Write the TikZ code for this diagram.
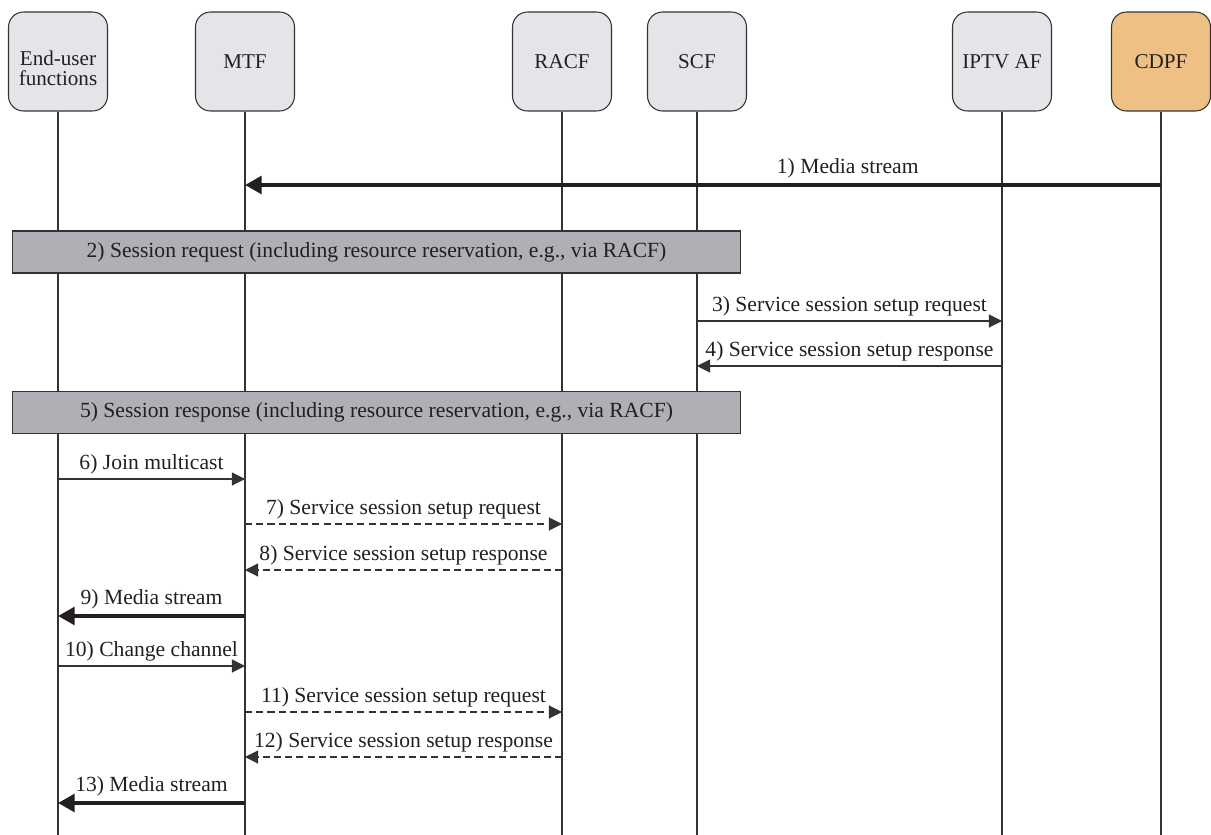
\documentclass[tikz,border=0pt]{standalone}
\usepackage{fontspec}
\setmainfont{Liberation Serif}
\usetikzlibrary{positioning}
\usetikzlibrary{arrows.meta}

\definecolor{boxgray}{HTML}{E4E5E9}
\definecolor{bargray}{HTML}{AEB0B5}
\definecolor{cdpforange}{HTML}{EFC083}
\definecolor{linegray}{HTML}{333333}
\definecolor{inkblack}{HTML}{231F20}

\begin{document}
\begin{tikzpicture}[x=0.02cm, y=-0.02cm,
        every node/.style={text=inkblack, font=\fontsize{12.3}{14}\selectfont},
        entity/.style={draw=linegray, line width=0.6pt, fill=boxgray, rounded corners=0.3cm,
            minimum width=1.98cm, minimum height=1.98cm, align=center, inner sep=1pt,
            font=\fontsize{12}{11}\selectfont},
        lifeline/.style={draw=linegray, line width=0.6pt},
        phase/.style={draw=linegray, line width=0.6pt, fill=bargray,
            minimum width=14.58cm, minimum height=0.84cm, inner sep=0pt},
        msg/.style={draw=linegray, line width=0.6pt, -{Triangle[length=7.5pt,width=7.5pt]}},
        reply/.style={msg, dash pattern=on 4pt off 2.4pt},
        stream/.style={draw=inkblack, line width=2.3pt, -{Triangle[length=9.5pt,width=10pt]}},
        lbl/.style={midway, above, inner sep=3pt, text depth=0.22em}]
        \useasboundingbox (0,0) rectangle (1211,835);

        \node[entity] (eu) at (58,61.5)
            {\raisebox{-4pt}[\height][\depth]{\shortstack{End-user\\functions}}};
        \node[entity] (mtf) at (245,61.5) {MTF};
        \node[entity] (racf) at (562,61.5) {RACF};
        \node[entity] (scf) at (697,61.5) {SCF};
        \node[entity] (iptv) at (1002,61.5) {IPTV AF};
        \node[entity, fill=cdpforange] (cdpf) at (1161,61.5) {CDPF};

        \coordinate (bottom) at (0,835);
        \draw[lifeline] (eu.south) -- (eu |- bottom);
        \draw[lifeline] (mtf.south) -- (mtf |- bottom);
        \draw[lifeline] (racf.south) -- (racf |- bottom);
        \draw[lifeline] (scf.south) -- (scf |- bottom);
        \draw[lifeline] (iptv.south) -- (iptv |- bottom);
        \draw[lifeline] (cdpf.south) -- (cdpf |- bottom);

        % message rows
        \coordinate (s1) at (0,185);
        \coordinate (s3) at (0,321);
        \coordinate (s4) at (0,366);
        \coordinate (s6) at (0,479);
        \coordinate (s7) at (0,524);
        \coordinate (s8) at (0,570);
        \coordinate (s9) at (0,616);
        \coordinate (s10) at (0,666);
        \coordinate (s11) at (0,712);
        \coordinate (s12) at (0,757);
        \coordinate (s13) at (0,803);

        \draw[stream] (cdpf |- s1) -- node[lbl, pos=0.342] {1) Media stream} (mtf |- s1);

        \node[phase] (sessreq) at (376.5,252)
            {2) Session request (including resource reservation, e.g., via RACF)};

        \draw[msg] (scf |- s3) -- node[lbl] {3) Service session setup request} (iptv |- s3);
        \draw[msg] (iptv |- s4) -- node[lbl] {4) Service session setup response} (scf |- s4);

        \node[phase] (sessresp) at (376.5,412.5)
            {5) Session response (including resource reservation, e.g., via RACF)};

        \draw[msg] (eu |- s6) -- node[lbl] {6) Join multicast} (mtf |- s6);
        \draw[reply] (mtf |- s7) -- node[lbl] {7) Service session setup request} (racf |- s7);
        \draw[reply] (racf |- s8) -- node[lbl] {8) Service session setup response} (mtf |- s8);
        \draw[stream] (mtf |- s9) -- node[lbl] {9) Media stream} (eu |- s9);
        \draw[msg] (eu |- s10) -- node[lbl] {10) Change channel} (mtf |- s10);
        \draw[reply] (mtf |- s11) -- node[lbl] {11) Service session setup request} (racf |- s11);
        \draw[reply] (racf |- s12) -- node[lbl] {12) Service session setup response} (mtf |- s12);
        \draw[stream] (mtf |- s13) -- node[lbl] {13) Media stream} (eu |- s13);
    \end{tikzpicture}
\end{document}
